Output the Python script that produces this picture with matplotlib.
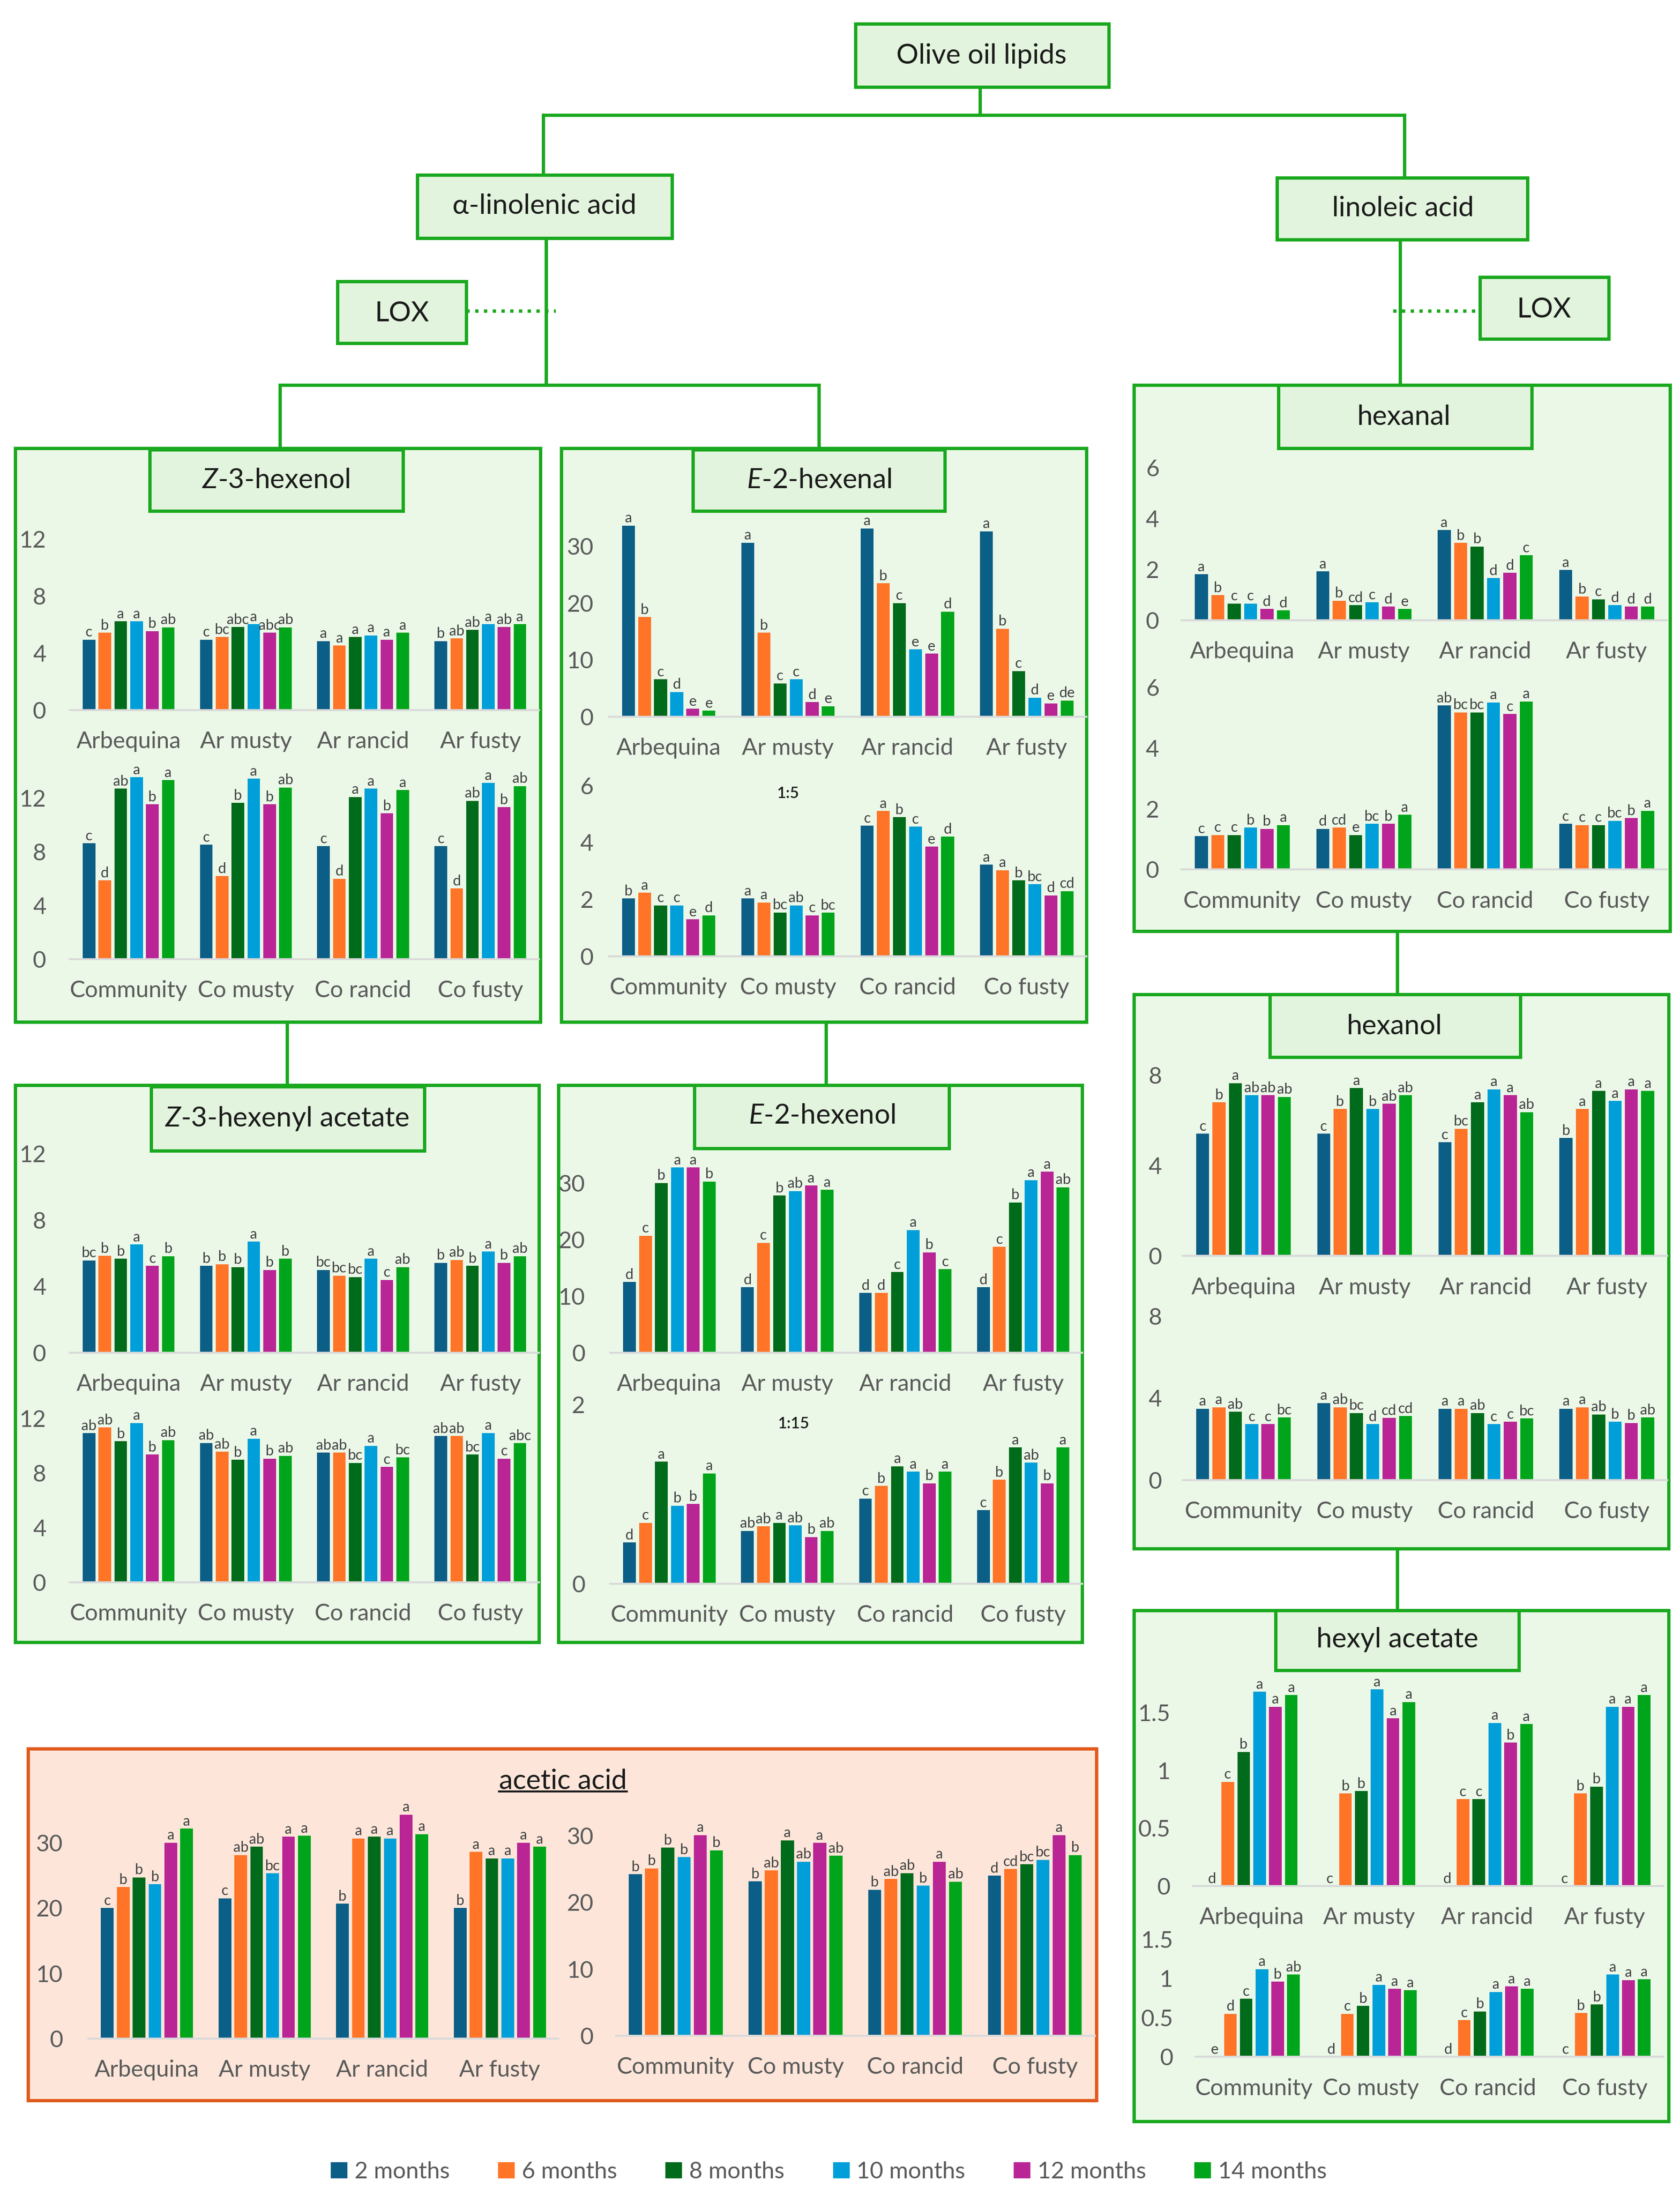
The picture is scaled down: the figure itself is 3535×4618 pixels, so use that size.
"""Olive oil lipid oxidation pathway: volatile compounds over storage time."""

import matplotlib.pyplot as plt
from matplotlib.lines import Line2D
from matplotlib.patches import Patch, Rectangle

plt.rcParams["font.family"] = ["Lato", "DejaVu Sans"]
plt.rcParams["mathtext.fontset"] = "custom"
plt.rcParams["mathtext.it"] = "Lato:italic"
plt.rcParams["mathtext.rm"] = "Lato"

W, H = 3535, 4618
S = W / 1200  # layout was measured on a 1200 px wide view of the figure

GREEN = "#19A81E"
PANEL = "#EBF8E8"
TITLE_FILL = "#E2F4DD"
ORANGE_EDGE = "#E05A1C"
PEACH = "#FDE6D9"
TICK_GREY = "#595959"
LETTER_GREY = "#404040"

months = ["2 months", "6 months", "8 months", "10 months", "12 months", "14 months"]
colors = ["#0B5E86", "#FF7427", "#006B1B", "#009FD9", "#B92595", "#01A51B"]
ar_cats = ["Arbequina", "Ar musty", "Ar rancid", "Ar fusty"]
co_cats = ["Community", "Co musty", "Co rancid", "Co fusty"]

# one row per oil, six storage times per row
z3_hexenol_ar = [
    [4.94, 5.43, 6.22, 6.22, 5.54, 5.80],
    [4.94, 5.12, 5.83, 6.03, 5.43, 5.80],
    [4.83, 4.52, 5.12, 5.24, 4.94, 5.43],
    [4.83, 5.03, 5.62, 6.03, 5.83, 6.03],
]
z3_hexenol_ar_sig = ["c b a a b ab", "c bc abc a abc ab", "a a a a a a", "b ab ab a ab a"]
z3_hexenol_co = [
    [8.64, 5.87, 12.70, 13.55, 11.54, 13.34],
    [8.53, 6.19, 11.64, 13.46, 11.54, 12.80],
    [8.43, 6.00, 12.08, 12.71, 10.87, 12.59],
    [8.43, 5.27, 11.80, 13.13, 11.33, 12.90],
]
z3_hexenol_co_sig = ["c d ab a b a", "c d b a b ab", "c d a a b a", "c d ab a b ab"]

e2_hexenal_ar = [
    [33.6, 17.55, 6.6, 4.4, 1.4, 1.1],
    [30.6, 14.8, 5.9, 6.6, 2.6, 1.9],
    [33.1, 23.45, 20.0, 11.86, 11.1, 18.5],
    [32.6, 15.5, 8.07, 3.4, 2.4, 2.9],
]
e2_hexenal_ar_sig = ["a b c d e e", "a b c c d e", "a b c e e d", "a b c d e de"]
e2_hexenal_co = [
    [2.03, 2.23, 1.79, 1.79, 1.30, 1.44],
    [2.03, 1.89, 1.54, 1.79, 1.44, 1.53],
    [4.59, 5.11, 4.89, 4.55, 3.85, 4.20],
    [3.22, 3.03, 2.67, 2.53, 2.14, 2.29],
]
e2_hexenal_co_sig = ["b a c c e d", "a a bc ab c bc", "c a b c e d", "a a b bc d cd"]

z3_acetate_ar = [
    [5.57, 5.84, 5.67, 6.53, 5.24, 5.82],
    [5.24, 5.34, 5.16, 6.70, 4.99, 5.66],
    [4.99, 4.65, 4.56, 5.66, 4.39, 5.16],
    [5.42, 5.59, 5.24, 6.10, 5.42, 5.82],
]
z3_acetate_ar_sig = ["bc b b a c b", "b b b a b b", "bc bc bc a c ab", "b ab b a b ab"]
z3_acetate_co = [
    [10.92, 11.34, 10.32, 11.67, 9.36, 10.41],
    [10.20, 9.56, 8.96, 10.52, 9.06, 9.26],
    [9.49, 9.49, 8.74, 10.00, 8.45, 9.15],
    [10.70, 10.70, 9.36, 10.94, 9.06, 10.19],
]
z3_acetate_co_sig = ["ab ab b a b ab", "ab ab b a b ab", "ab ab bc a c bc", "ab ab bc a c abc"]

e2_hexenol_ar = [
    [12.5, 20.7, 30.06, 32.8, 32.8, 30.3],
    [11.55, 19.44, 27.8, 28.6, 29.6, 28.8],
    [10.58, 10.58, 14.27, 21.7, 17.75, 14.77],
    [11.55, 18.7, 26.6, 30.56, 32.0, 29.3],
]
e2_hexenol_ar_sig = ["d c b a a b", "d c b ab a a", "d d c a b c", "d c b a a ab"]
e2_hexenol_co = [
    [0.46, 0.68, 1.36, 0.87, 0.89, 1.23],
    [0.59, 0.64, 0.68, 0.65, 0.52, 0.59],
    [0.95, 1.09, 1.31, 1.25, 1.12, 1.25],
    [0.82, 1.16, 1.52, 1.35, 1.12, 1.52],
]
e2_hexenol_co_sig = ["d c a b b a", "ab ab a ab b ab", "c b a a b a", "c b a ab b a"]

hexanal_ar = [
    [1.81, 0.99, 0.66, 0.66, 0.45, 0.39],
    [1.92, 0.77, 0.60, 0.71, 0.54, 0.45],
    [3.55, 3.04, 2.90, 1.66, 1.87, 2.56],
    [1.98, 0.93, 0.83, 0.60, 0.54, 0.54],
]
hexanal_ar_sig = ["a b c c d d", "a b cd c d e", "a b b d d c", "a b c d d d"]
hexanal_co = [
    [1.10, 1.14, 1.14, 1.38, 1.34, 1.47],
    [1.34, 1.38, 1.14, 1.51, 1.51, 1.80],
    [5.41, 5.18, 5.18, 5.51, 5.13, 5.54],
    [1.51, 1.47, 1.47, 1.61, 1.69, 1.94],
]
hexanal_co_sig = ["c c c b b a", "d cd e bc b a", "ab bc bc a c a", "c c c bc b a"]

hexanol_ar = [
    [5.41, 6.81, 7.66, 7.12, 7.12, 7.05],
    [5.41, 6.51, 7.43, 6.51, 6.74, 7.12],
    [5.04, 5.64, 6.81, 7.38, 7.12, 6.37],
    [5.22, 6.51, 7.31, 6.87, 7.38, 7.31],
]
hexanol_ar_sig = ["c b a ab ab ab", "c b a b ab ab", "c bc a a a ab", "b a a a a a"]
hexanol_co = [
    [3.48, 3.55, 3.33, 2.73, 2.73, 3.06],
    [3.76, 3.55, 3.27, 2.73, 3.03, 3.12],
    [3.48, 3.48, 3.27, 2.73, 2.85, 3.00],
    [3.48, 3.55, 3.20, 2.85, 2.79, 3.06],
]
hexanol_co_sig = ["a a ab c c bc", "a ab bc d cd cd", "a a ab c c bc", "a a ab b b ab"]

hexyl_acetate_ar = [
    [0.0, 0.90, 1.16, 1.68, 1.55, 1.65],
    [0.0, 0.80, 0.82, 1.70, 1.45, 1.59],
    [0.0, 0.75, 0.75, 1.41, 1.24, 1.40],
    [0.0, 0.80, 0.86, 1.55, 1.55, 1.65],
]
hexyl_acetate_ar_sig = ["d c b a a a", "c b b a a a", "d c c a b a", "c b b a a a"]
hexyl_acetate_co = [
    [0.0, 0.55, 0.74, 1.12, 0.96, 1.05],
    [0.0, 0.55, 0.65, 0.92, 0.87, 0.85],
    [0.0, 0.47, 0.58, 0.83, 0.90, 0.87],
    [0.0, 0.56, 0.67, 1.05, 0.98, 0.99],
]
hexyl_acetate_co_sig = ["e d c a b ab", "d c b a a a", "d c b a a a", "c b b a a a"]

acetic_ar = [
    [20.0, 23.2, 24.7, 23.65, 30.0, 32.15],
    [21.5, 28.1, 29.4, 25.3, 30.9, 31.06],
    [20.65, 30.65, 30.9, 30.65, 34.3, 31.3],
    [20.0, 28.57, 27.6, 27.6, 30.0, 29.4],
]
acetic_ar_sig = ["c b b b a a", "c ab ab bc a a", "b a a a a a", "b a a a a a"]
acetic_co = [
    [24.2, 25.1, 28.2, 26.8, 30.1, 27.8],
    [23.15, 24.8, 29.3, 26.1, 28.9, 27.0],
    [21.9, 23.5, 24.4, 22.5, 26.1, 23.1],
    [24.0, 25.0, 25.7, 26.4, 30.1, 27.1],
]
acetic_co_sig = ["b b b b a b", "b ab a ab a ab", "b ab ab b a ab", "d cd bc bc a b"]


fig = plt.figure(figsize=(W / 100, H / 100), dpi=100)
fig.patch.set_facecolor("white")


def fx(x):
    return x * S / W


def fy(y):
    return 1 - y * S / H


def box(x0, y0, x1, y1, face, edge=GREEN, lw=5, z=-2):
    fig.add_artist(Rectangle((fx(x0), fy(y1)), fx(x1) - fx(x0), fy(y0) - fy(y1),
                             transform=fig.transFigure, facecolor=face,
                             edgecolor=edge, lw=lw, zorder=z))


def link(xs, ys, **kw):
    fig.add_artist(Line2D([fx(x) for x in xs], [fy(y) for y in ys],
                          transform=fig.transFigure, color=GREEN, lw=5,
                          zorder=-1, **kw))


def label(x, y, text, size=42, **kw):
    return fig.text(fx(x), fy(y), text, ha="center", va="center",
                    fontsize=size, color="#1A1A1A", zorder=5, **kw)


def chart(values, sig, cats, left, right, base, ref_y, ref_v, ymax, ticks, ypad):
    unit = (base - ref_y) / ref_v
    top = base - ymax * unit
    ax = fig.add_axes([fx(left), fy(base), fx(right) - fx(left), fy(top) - fy(base)])
    ax.patch.set_alpha(0)
    letters = [s.split() for s in sig]
    n = len(months)
    pitch, width = 0.135, 0.108
    for k in range(n):
        xs = [i + (k - (n - 1) / 2) * pitch for i in range(len(cats))]
        hs = [grp[k] for grp in values]
        bars = ax.bar(xs, hs, width, color=colors[k])
        ax.bar_label(bars, labels=[lt[k] for lt in letters], padding=1,
                     fontsize=22, color=LETTER_GREY)
    ax.set_xlim(-0.5, len(cats) - 0.5)
    ax.set_ylim(0, ymax)
    ax.set_yticks(ticks)
    ax.set_yticklabels([f"{t:g}" for t in ticks])
    ax.set_xticks(range(len(cats)))
    ax.set_xticklabels(cats)
    for side in ["top", "right", "left"]:
        ax.spines[side].set_visible(False)
    ax.spines["bottom"].set_color("#D9D9D9")
    ax.spines["bottom"].set_linewidth(3)
    ax.tick_params(length=0, labelsize=35, labelcolor=TICK_GREY)
    ax.tick_params(axis="y", pad=ypad * S / 1.389)
    ax.tick_params(axis="x", pad=15 * S / 1.389)
    return ax


# pathway boxes and connectors
link([700, 700], [62, 82])
link([388, 1003], [82, 82])
link([388, 388], [82, 125])
link([1003, 1003], [82, 127])
link([390, 390], [170, 275])
link([1000, 1000], [171, 275])
link([333, 397], [222, 222], ls=":")
link([995, 1057], [222, 222], ls=":")
link([200, 585], [275, 275])
link([200, 200], [275, 320])
link([585, 585], [275, 320])
link([205, 205], [730, 775])
link([590, 590], [730, 775])
link([998, 998], [665, 710])
link([998, 998], [1106, 1150])

box(611, 17, 792, 62, TITLE_FILL, z=1)
label(701, 40, "Olive oil lipids")
box(298, 125, 480, 170, TITLE_FILL, z=1)
label(389, 147, "α-linolenic acid")
box(912, 127, 1091, 171, TITLE_FILL, z=1)
label(1002, 149, "linoleic acid")
box(241, 201, 333, 245, TITLE_FILL, z=1)
label(287, 224, "LOX")
box(1057, 198, 1149, 242, TITLE_FILL, z=1)
label(1103, 221, "LOX")

# compound panels
box(11, 320, 386, 730, PANEL)
box(401, 320, 776, 730, PANEL)
box(810, 275, 1193, 665, PANEL)
box(11, 775, 385, 1173, PANEL)
box(399, 775, 773, 1173, PANEL)
box(810, 710, 1192, 1106, PANEL)
box(810, 1150, 1192, 1515, PANEL)
box(20, 1249, 783, 1500, PEACH, edge=ORANGE_EDGE)

box(107, 321, 288, 365, TITLE_FILL, z=1)
label(197, 343, r"$Z$-3-hexenol")
box(495, 321, 675, 365, TITLE_FILL, z=1)
label(585, 343, r"$E$-2-hexenal")
box(913, 275, 1094, 320, TITLE_FILL, z=1)
label(1003, 298, "hexanal")
box(108, 776, 303, 822, TITLE_FILL, z=1)
label(205, 799, r"$Z$-3-hexenyl acetate")
box(496, 775, 678, 820, TITLE_FILL, z=1)
label(587, 797, r"$E$-2-hexenol")
box(907, 710, 1086, 755, TITLE_FILL, z=1)
label(996, 733, "hexanol")
box(911, 1150, 1085, 1193, TITLE_FILL, z=1)
label(998, 1171, "hexyl acetate")
acetic_title = label(402, 1272, "acetic acid")

label(563, 567, "1:5", size=24, fontweight="semibold")
label(567, 1017, "1:15", size=24, fontweight="semibold")

chart(z3_hexenol_ar, z3_hexenol_ar_sig, ar_cats, 50, 385, 507, 385, 12, 14, [0, 4, 8, 12], 17)
chart(z3_hexenol_co, z3_hexenol_co_sig, co_cats, 50, 385, 685, 570, 12, 14.5, [0, 4, 8, 12], 17)
chart(e2_hexenal_ar, e2_hexenal_ar_sig, ar_cats, 435, 776, 512, 390, 30, 35, [0, 10, 20, 30], 11)
chart(e2_hexenal_co, e2_hexenal_co_sig, co_cats, 435, 776, 683, 561, 6, 6.2, [0, 2, 4, 6], 11)
chart(z3_acetate_ar, z3_acetate_ar_sig, ar_cats, 50, 385, 966, 824, 12, 13, [0, 4, 8, 12], 17)
chart(z3_acetate_co, z3_acetate_co_sig, co_cats, 50, 385, 1130, 1013, 12, 12.6, [0, 4, 8, 12], 17)
chart(e2_hexenol_ar, e2_hexenol_ar_sig, ar_cats, 436, 773, 966, 845, 30, 34.5, [0, 10, 20, 30], 18)
chart(e2_hexenol_co, e2_hexenol_co_sig, co_cats, 436, 773, 1131, 1003, 2, 2.05, [0, 2], 18)
chart(hexanal_ar, hexanal_ar_sig, ar_cats, 844, 1191, 443, 334, 6, 6.2, [0, 2, 4, 6], 16)
chart(hexanal_co, hexanal_co_sig, co_cats, 844, 1191, 621, 491, 6, 6.1, [0, 2, 4, 6], 16)
chart(hexanol_ar, hexanol_ar_sig, ar_cats, 845, 1191, 897, 768, 8, 8.2, [0, 4, 8], 15)
chart(hexanol_co, hexanol_co_sig, co_cats, 845, 1191, 1057, 940, 8, 8.1, [0, 4, 8], 15)
chart(hexyl_acetate_ar, hexyl_acetate_ar_sig, ar_cats, 852, 1188, 1347, 1223, 1.5, 1.8,
      [0, 0.5, 1, 1.5], 16)
chart(hexyl_acetate_co, hexyl_acetate_co_sig, co_cats, 854, 1188, 1469, 1385, 1.5, 1.55,
      [0, 0.5, 1, 1.5], 16)
chart(acetic_ar, acetic_ar_sig, ar_cats, 63, 399, 1456, 1316, 30, 35.5, [0, 10, 20, 30], 18)
chart(acetic_co, acetic_co_sig, co_cats, 440, 782, 1454, 1311, 30, 32.5, [0, 10, 20, 30], 16)

handles = [Patch(facecolor=c, edgecolor="none") for c in colors]
fig.legend(handles, months, loc="center", bbox_to_anchor=(fx(592), fy(1551)), ncol=6,
           frameon=False, fontsize=35, labelcolor=TICK_GREY, handlelength=0.72,
           handleheight=0.72, handletextpad=0.3, columnspacing=2.1)

# underline the acetic acid title
fig.canvas.draw()
bb = acetic_title.get_window_extent().transformed(fig.transFigure.inverted())
fig.add_artist(Line2D([bb.x0, bb.x1], [bb.y0 + 0.001, bb.y0 + 0.001],
                      transform=fig.transFigure, color="#1A1A1A", lw=3, zorder=5))

fig.savefig("out.png", dpi=100)
plt.close(fig)
